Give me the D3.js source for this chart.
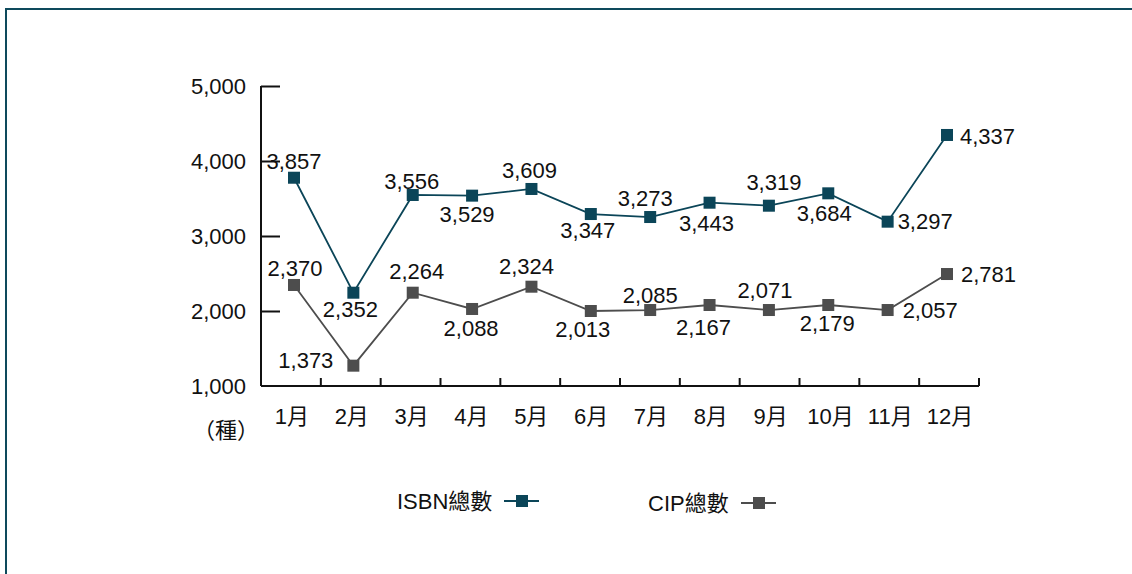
<!DOCTYPE html>
<html>
<head>
<meta charset="utf-8">
<script src="https://cdn.jsdelivr.net/npm/d3@7"></script>
<style>
  body { margin: 0; background: #fff; }
  svg text { font-family: "Liberation Sans", Arial, "Noto Sans CJK TC", sans-serif; fill: #111; }
</style>
</head>
<body>
<div id="chart"></div>
<script>
// datos
const months = ["1月", "2月", "3月", "4月", "5月", "6月", "7月", "8月", "9月", "10月", "11月", "12月"];
const isbnValues = [3777, 2244, 3547, 3538, 3627, 3293, 3253, 3444, 3404, 3569, 3191, 4347];
const isbnLabels = ["3,857", "2,352", "3,556", "3,529", "3,609", "3,347", "3,273", "3,443", "3,319", "3,684", "3,297", "4,337"];
const cipValues = [2347, 1271, 2244, 2027, 2324, 2000, 2013, 2080, 2013, 2080, 2013, 2493];
const cipLabels = ["2,370", "1,373", "2,264", "2,088", "2,324", "2,013", "2,085", "2,167", "2,071", "2,179", "2,057", "2,781"];
const yTicks = [1000, 2000, 3000, 4000, 5000];

// posición de las etiquetas (dx, dy, anchor) respecto al punto
const isbnLabelPos = [[0,-9,"middle"],[-3,24,"middle"],[-1,-6,"middle"],[-5,26,"middle"],[-2,-11,"middle"],[-3,24,"middle"],
  [-5,-11,"middle"],[-3,28,"middle"],[5,-16,"middle"],[-4,28,"middle"],[10,7,"start"],[13,9,"start"]];
const cipLabelPos = [[1,-9,"middle"],[-20,2,"end"],[4,-14,"middle"],[-1,27,"middle"],[-5,-13,"middle"],[-8,26,"middle"],
  [0,-7,"middle"],[-6,30,"middle"],[-4,-12,"middle"],[-1,26,"middle"],[15,8,"start"],[14,8,"start"]];

const W = 1132, H = 574;
const FS = "22px";
const svg = d3.select("#chart").append("svg").attr("width", W).attr("height", H);

// marco
svg.append("rect").attr("x", 6).attr("y", 9).attr("width", 1300).attr("height", 800)
  .attr("fill", "none").attr("stroke", "#0e4a5c").attr("stroke-width", 2);

const xBand = d3.scaleBand().domain(months).range([261, 979]);
const xPt = d3.scalePoint().domain(months).range([294, 947]);
const y = d3.scaleLinear().domain([1000, 5000]).range([386, 86]);

// eje Y
const gy = svg.append("g").attr("transform", "translate(261,0)")
  .call(d3.axisRight(y).tickValues(yTicks).tickSize(19).tickFormat(""));
gy.select(".domain").attr("d", `M0,${y(5000)}V${y(1000)}`);
gy.selectAll("path, line").attr("stroke", "#111").attr("stroke-width", 2);
gy.selectAll(".tick").filter(d => d === 1000).select("line").remove();

svg.selectAll(".ylab").data(yTicks).enter().append("text")
  .attr("x", 246).attr("y", d => y(d) + 8)
  .attr("text-anchor", "end").style("font-size", FS)
  .text(d => d3.format(",")(d));

// eje X
const bounds = months.map(m => xBand(m) + xBand.bandwidth()).concat([261]);
svg.append("line").attr("x1", 261).attr("x2", 979).attr("y1", 386).attr("y2", 386)
  .attr("stroke", "#111").attr("stroke-width", 2);
svg.selectAll(".xtick").data(bounds).enter().append("line")
  .attr("x1", d => d).attr("x2", d => d).attr("y1", 386).attr("y2", 378)
  .attr("stroke", "#111").attr("stroke-width", 2);
svg.selectAll(".xlab").data(months).enter().append("text")
  .attr("x", d => xBand(d) + xBand.bandwidth() / 2 + 1).attr("y", 424)
  .attr("text-anchor", "middle").style("font-size", FS)
  .text(d => d);
svg.append("text").attr("x", 226).attr("y", 438).attr("text-anchor", "middle")
  .style("font-size", "22px").text("（種）");

// series
function drawSeries(values, labels, pos, color) {
  const pts = values.map((v, i) => ({ m: months[i], v: v, lab: labels[i], p: pos[i] }));
  const line = d3.line().x(d => xPt(d.m)).y(d => y(d.v));
  svg.append("path").datum(pts).attr("d", line)
    .attr("fill", "none").attr("stroke", color).attr("stroke-width", 1.8);
  svg.selectAll(null).data(pts).enter().append("rect")
    .attr("x", d => xPt(d.m) - 6).attr("y", d => y(d.v) - 6)
    .attr("width", 12).attr("height", 12).attr("fill", color);
  svg.selectAll(null).data(pts).enter().append("text")
    .attr("x", d => xPt(d.m) + d.p[0]).attr("y", d => y(d.v) + d.p[1])
    .attr("text-anchor", d => d.p[2]).style("font-size", FS)
    .text(d => d.lab);
}
drawSeries(isbnValues, isbnLabels, isbnLabelPos, "#0b4558");
drawSeries(cipValues, cipLabels, cipLabelPos, "#4d4d4d");

// leyenda
const legend = [
  { name: "ISBN總數", color: "#0b4558", x: 397, lx: 504, y: 501 },
  { name: "CIP總數", color: "#4d4d4d", x: 648, lx: 741, y: 503 }
];
legend.forEach(l => {
  svg.append("text").attr("x", l.x).attr("y", l.y + 8).style("font-size", FS).text(l.name);
  svg.append("line").attr("x1", l.lx).attr("x2", l.lx + 35).attr("y1", l.y).attr("y2", l.y)
    .attr("stroke", l.color).attr("stroke-width", 1.8);
  svg.append("rect").attr("x", l.lx + 12).attr("y", l.y - 6).attr("width", 12).attr("height", 12).attr("fill", l.color);
});
</script>
</body>
</html>
